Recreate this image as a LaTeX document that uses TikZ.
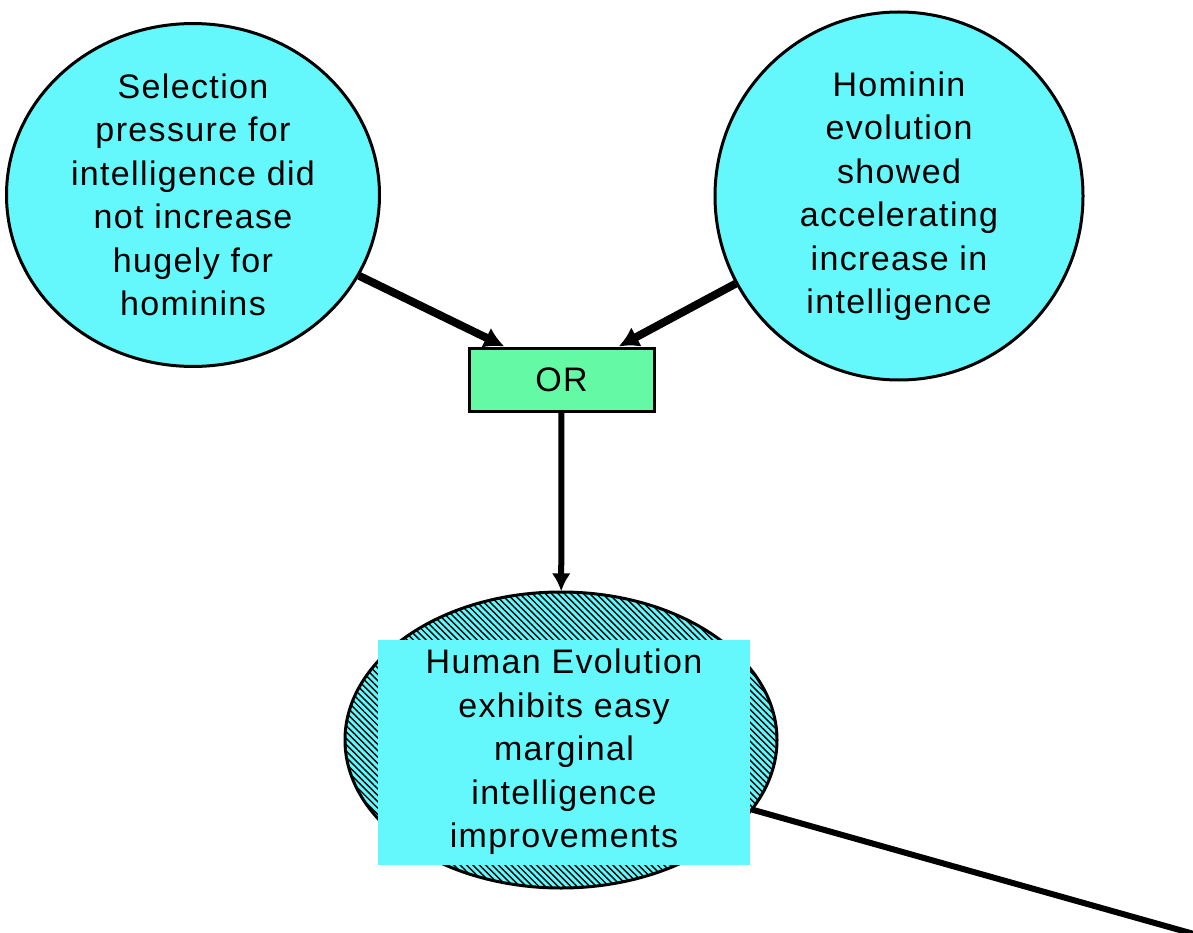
\documentclass[tikz,border=0pt]{standalone}
\usepackage{fontspec}
\setmainfont{Liberation Sans}[LetterSpace=4]
\usetikzlibrary{shapes.geometric,arrows.meta,patterns.meta}
\definecolor{bubble}{RGB}{100,248,252}
\definecolor{orgreen}{RGB}{100,250,165}
\tikzset{
  txt/.style={align=center, font=\fontsize{34}{43.5}\selectfont},
  bubble/.style={ellipse, draw=black, line width=3pt, fill=bubble, inner sep=0pt, txt},
  conn/.style={line width=8pt, -{Latex[length=20pt,width=22pt]}},
  conntwo/.style={line width=6pt, -{Latex[length=18pt,width=19pt]}},
  plainline/.style={line width=6pt},
}
\begin{document}
\begin{tikzpicture}[x=1pt,y=-1pt]
\useasboundingbox (0,0) rectangle (1193,933);
\clip (0,0) rectangle (1193,933);
\fill[white] (0,0) rectangle (1193,933);
\node[bubble, minimum width=373pt, minimum height=304pt] (L) at (193,195)
  {Selection\\pressure for\\intelligence did\\not increase\\hugely for\\hominins};
\node[bubble, minimum width=368pt, minimum height=368pt] (R) at (899,196)
  {Hominin\\evolution\\showed\\accelerating\\increase in\\intelligence};
\node[draw=black, line width=3pt, fill=orgreen, minimum width=185pt, minimum height=63pt, txt] (or) at (561.5,379.5) {OR};
\node[ellipse, draw=black, line width=3pt, preaction={fill=bubble},
  pattern={Lines[angle=-45,distance=4.5pt,line width=1.4pt]}, pattern color=black,
  minimum width=432pt, minimum height=296pt] (H) at (561,740) {};
\node[fill=bubble, minimum width=372pt, minimum height=225pt, inner sep=0pt, txt] (Ht) at (564,752)
  {Human Evolution\\exhibits easy\\marginal\\intelligence\\improvements};
\coordinate (far) at (1240,947);
\draw[conn] (L) -- (or.150);
\draw[conn] (R) -- (or.30);
\draw[conntwo] (or) -- (H);
\draw[plainline] (H.-20) -- (far);
\end{tikzpicture}
\end{document}
